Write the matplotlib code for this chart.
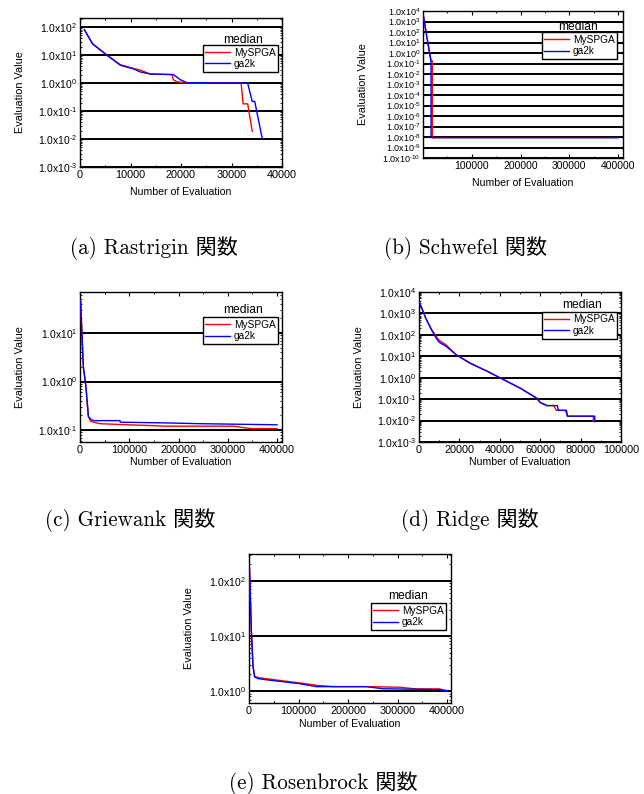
import matplotlib
matplotlib.use("Agg")
import matplotlib.pyplot as plt
import numpy as np
from matplotlib.ticker import LogLocator, NullFormatter, FuncFormatter

plt.rcParams['font.family'] = ['Liberation Sans', 'DejaVu Sans']
plt.rcParams['mathtext.fontset'] = 'custom'
plt.rcParams['mathtext.rm'] = 'Liberation Sans'
plt.rcParams['mathtext.it'] = 'Liberation Sans'

# ---------------- data ----------------
# (a) Rastrigin
ras_my_x = [860, 2500, 5300, 8000, 10600, 11900, 13900, 18200, 18500, 19200, 21200, 31900, 32300, 33200, 34100]
ras_my_y = [80, 25, 10, 4.5, 3.3, 2.9, 2.1, 2.0, 1.3, 1.1, 1.0, 1.0, 0.18, 0.18, 0.019]
ras_ga_x = [860, 2500, 5300, 8000, 10600, 11900, 13900, 18500, 19900, 21200, 33200, 34100, 34600, 36100]
ras_ga_y = [80, 25, 10, 4.3, 3.2, 2.5, 2.1, 2.0, 1.3, 1.02, 1.0, 0.22, 0.22, 0.01]

# (b) Schwefel
sch_my_x = [1000, 8000, 16400, 19000, 19000, 400000]
sch_my_y = [3000, 30, 0.18, 0.18, 8.7e-9, 8.7e-9]
sch_ga_x = [1000, 8000, 16400, 16600, 400000]
sch_ga_y = [3000, 30, 0.18, 8.7e-9, 8.7e-9]

# (c) Griewank
gri_my_x = [1200, 6800, 12000, 17000, 21700, 40700, 81000, 176000, 312000, 346000, 400000]
gri_my_y = [45, 2.0, 0.79, 0.19, 0.15, 0.135, 0.13, 0.12, 0.12, 0.107, 0.107]
gri_ga_x = [1200, 6800, 12000, 17000, 21700, 27000, 81000, 82000, 176000, 244000, 400000]
gri_ga_y = [45, 2.0, 0.79, 0.19, 0.167, 0.156, 0.156, 0.145, 0.14, 0.135, 0.128]

# (d) Ridge
rid_my_x = [330, 3300, 5800, 8300, 10000, 13300, 18300, 25000, 33300, 40000, 50000, 58300, 60000, 63300, 66700, 68000, 72500, 73500, 86300, 86300]
rid_my_y = [3100, 610, 205, 90, 55, 35, 12, 4.8, 2.1, 1.0, 0.33, 0.11, 0.07, 0.05, 0.05, 0.03, 0.03, 0.016, 0.016, 0.009]
rid_ga_x = [330, 3300, 5800, 8300, 10000, 13300, 18300, 25000, 33300, 40000, 50000, 58300, 60000, 63300, 68500, 69000, 73000, 73500, 87000, 87000]
rid_ga_y = [3100, 610, 205, 75, 45, 30, 12, 5.0, 2.1, 1.0, 0.33, 0.11, 0.07, 0.05, 0.05, 0.03, 0.03, 0.016, 0.016, 0.009]

# (e) Rosenbrock
ros_my_x = [1000, 4700, 8100, 11400, 18000, 35000, 102000, 136000, 170000, 237000, 304000, 338000, 385000, 400000]
ros_my_y = [170, 13, 2.8, 1.85, 1.75, 1.67, 1.4, 1.27, 1.2, 1.2, 1.17, 1.09, 1.09, 1.01]
ros_ga_x = [1000, 4700, 8100, 11400, 18000, 35000, 102000, 136000, 170000, 237000, 270000, 385000, 400000]
ros_ga_y = [170, 13, 2.8, 1.8, 1.68, 1.6, 1.36, 1.2, 1.2, 1.2, 1.1, 1.06, 1.0]

captions = ['(a) Rastrigin 関数', '(b) Schwefel 関数', '(c) Griewank 関数', '(d) Ridge 関数', '(e) Rosenbrock 関数']
series_names = ['MySPGA', 'ga2k']

W, H = 644, 794
fig = plt.figure(figsize=(W / 100, H / 100), dpi=100)


def sci_fmt(v, pos):
    e = int(round(np.log10(v)))
    return r'1.0x10$^{\text{%d}}$' % e


panels = [
    dict(box=(80, 18, 282, 167), xlim=(0, 40000), xticks=[0, 10000, 20000, 30000, 40000],
         ylim=(1e-3, 210), dec=range(-3, 3), my=(ras_my_x, ras_my_y), ga=(ras_ga_x, ras_ga_y),
         yfs=7.5, xfs=7.8, xl=25, leg=(0.98, 0.819), med=(0.805, 0.852)),
    dict(box=(423, 11, 623, 158), xlim=(0, 410000), xticks=[100000, 200000, 300000, 400000],
         ylim=(1e-10, 1e4), dec=range(-10, 5), my=(sch_my_x, sch_my_y), ga=(sch_ga_x, sch_ga_y),
         yfs=6.5, xfs=7.5, xl=25, leg=(0.97, 0.857), med=(0.775, 0.89)),
    dict(box=(80, 292, 282, 442), xlim=(0, 410000), xticks=[0, 100000, 200000, 300000, 400000],
         ylim=(0.0566, 70), dec=range(-1, 2), my=(gri_my_x, gri_my_y), ga=(gri_ga_x, gri_ga_y),
         yfs=7.4, xfs=7.8, xl=20, leg=(0.98, 0.833), med=(0.805, 0.88)),
    dict(box=(419, 292, 621, 442), xlim=(0, 100000), xticks=[0, 20000, 40000, 60000, 80000, 100000],
         ylim=(1e-3, 1e4), dec=range(-3, 5), my=(rid_my_x, rid_my_y), ga=(rid_ga_x, rid_ga_y),
         yfs=7.5, xfs=7.8, xl=20, leg=(0.98, 0.867), med=(0.805, 0.913)),
    dict(box=(249, 554, 451, 703), xlim=(0, 408000), xticks=[0, 100000, 200000, 300000, 400000],
         ylim=(0.605, 309), dec=range(0, 3), my=(ros_my_x, ros_my_y), ga=(ros_ga_x, ros_ga_y),
         yfs=7.5, xfs=7.8, xl=21, leg=(0.975, 0.671), med=(0.787, 0.718)),
]

cap_pos = [(154, 248), (466, 248), (130, 520), (470, 520), (323, 783)]

for p, cap, cp in zip(panels, captions, cap_pos):
    l, t, r, b = p['box']
    wpx, hpx = r - l, b - t
    ax = fig.add_axes([l / W, 1 - b / H, wpx / W, hpx / H])
    ax.set_yscale('log')
    ax.set_xlim(*p['xlim'])
    ax.set_ylim(*p['ylim'])
    ax.set_xticks(p['xticks'])
    decs = list(p['dec'])
    ax.set_yticks([10.0 ** d for d in decs])
    ax.yaxis.set_major_formatter(FuncFormatter(sci_fmt))
    ax.yaxis.set_minor_locator(LogLocator(base=10, subs=np.arange(2, 10)))
    ax.yaxis.set_minor_formatter(NullFormatter())
    step = p['xticks'][1] - p['xticks'][0]
    ax.set_xticks([x + step / 2 for x in ([0] + p['xticks']) if x + step / 2 < p['xlim'][1]],
                  minor=True)
    ax.tick_params(axis='both', which='major', direction='in', length=3, width=0.8,
                   top=True, right=True, pad=2)
    ax.tick_params(axis='y', which='major', labelsize=p['yfs'])
    ax.tick_params(axis='x', which='major', labelsize=p['xfs'])
    ax.tick_params(axis='both', which='minor', direction='in', length=1.5, width=0.6,
                   top=True, right=True)
    for d in decs:
        ax.axhline(10.0 ** d, color='black', lw=1.4, zorder=1)
    for s in ax.spines.values():
        s.set_linewidth(1.0)
    ax.set_xlabel('Number of Evaluation', fontsize=7.6)
    ax.xaxis.set_label_coords(0.5, -(p['xl'] - 5) / hpx)
    ax.set_ylabel('Evaluation Value', fontsize=7.8)
    ax.yaxis.set_label_coords(-55 / wpx, 0.5)

    h1, = ax.plot(p['my'][0], p['my'][1], color='red', lw=1.0, zorder=3)
    h2, = ax.plot(p['ga'][0], p['ga'][1], color='blue', lw=1.0, zorder=3)
    leg = ax.legend([h1, h2], series_names, loc='upper right',
                    bbox_to_anchor=p['leg'], fontsize=7.3, frameon=True,
                    fancybox=False, framealpha=1, edgecolor='black',
                    borderpad=0.25, handlelength=2.4, handletextpad=0.4,
                    labelspacing=0.15, borderaxespad=0)
    leg.get_frame().set_linewidth(1.0)
    ax.text(p['med'][0], p['med'][1], 'median', transform=ax.transAxes, fontsize=8.7,
            ha='center', va='center')
    fig.text(cp[0] / W, 1 - cp[1] / H, cap, ha='center', va='center', fontsize=15.2,
             family=['cmr10', 'Noto Sans CJK JP'])

fig.savefig('out.png', dpi=100)
